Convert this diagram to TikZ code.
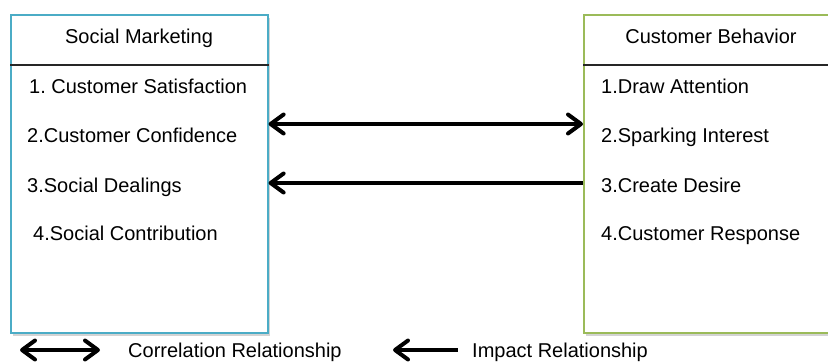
\documentclass[tikz,border=0pt]{standalone}
\usepackage{fontspec}
\setmainfont{Liberation Sans}
\usetikzlibrary{arrows.meta,shadows}
\frenchspacing

\definecolor{smblue}{HTML}{4BACC6}
\definecolor{cbgreen}{HTML}{9BBB59}

\begin{document}
\begin{tikzpicture}[x=1pt, y=-1pt,
      every node/.style = {font=\fontsize{20}{24}\selectfont, inner sep=0pt},
      panel/.style = {draw, line width=1.6pt, fill=white, anchor=north west,
        minimum height=318pt,
        drop shadow={opacity=0.35, shadow xshift=2pt, shadow yshift=-3pt}},
      entry/.style = {anchor=base west},
      link/.style = {line width=4pt, black},
      tip/.tip = {Straight Barb[length=13pt, width=19pt, round]}]
  \useasboundingbox (0,0) rectangle (828,362);

  % the two boxes
  \node[panel, draw=smblue, minimum width=257pt] (sm) at (10,14) {};
  \node[panel, draw=cbgreen, minimum width=260pt] (cb) at (583,14) {};
  \draw[line width=1.5pt, black!85] ([yshift=-51pt]sm.north west) -- ([yshift=-51pt]sm.north east);
  \draw[line width=1.5pt, black!85] ([yshift=-51pt]cb.north west) -- ([yshift=-51pt]cb.north east);

  % headings
  \node[anchor=base] (smhead) at (139,43) {Social Marketing};
  \node[anchor=base] (cbhead) at (711,43) {Customer Behavior};

  % left items
  \node[entry] (sm1) at (29,93) {1. Customer Satisfaction};
  \node[entry] (sm2) at (27,142) {2.Customer Confidence};
  \node[entry] (sm3) at (27,192) {3.Social Dealings};
  \node[entry] (sm4) at (33,240) {4.Social Contribution};

  % right items
  \node[entry] (cb1) at (601,93) {1.Draw Attention};
  \node[entry] (cb2) at (601,142) {2.Sparking Interest};
  \node[entry] (cb3) at (601,192) {3.Create Desire};
  \node[entry] (cb4) at (601,240) {4.Customer Response};

  % relations
  \coordinate (row2) at (0,124);
  \coordinate (row3) at (0,183);
  \draw[link, tip-tip] (sm.east |- row2) -- (cb.west |- row2);
  \draw[link, tip-] (sm.east |- row3) -- (cb.west |- row3);

  % legend
  \coordinate (keyA) at (20,350);
  \coordinate (keyB) at (100,350);
  \coordinate (keyC) at (393,350);
  \coordinate (keyD) at (458,350);
  \draw[link, tip-tip] (keyA) -- (keyB);
  \draw[link, tip-] (keyC) -- (keyD);
  \node[anchor=base west] (corr) at (128,357) {Correlation Relationship};
  \node[anchor=base west] (impact) at (472,357) {Impact Relationship};
\end{tikzpicture}
\end{document}
